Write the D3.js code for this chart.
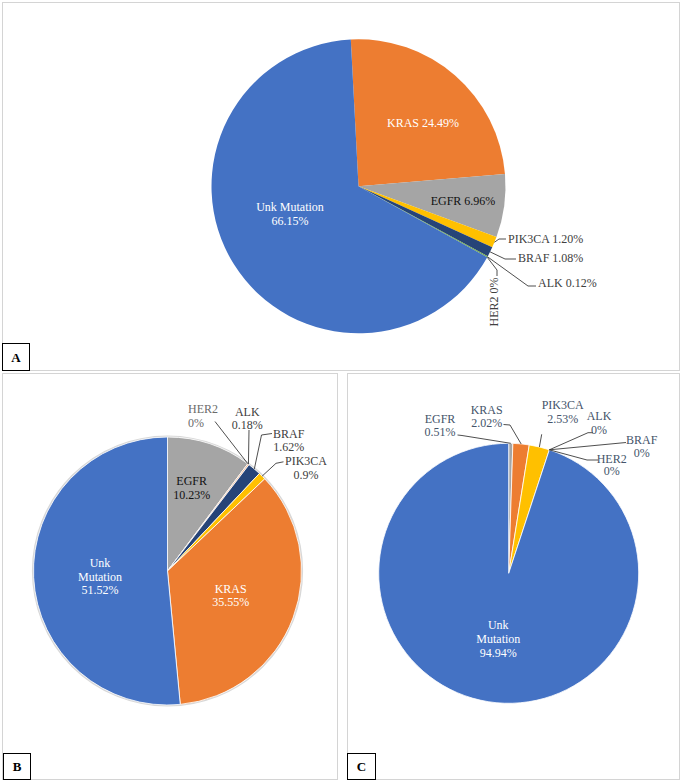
<!DOCTYPE html>
<html>
<head>
<meta charset="utf-8">
<script src="https://cdn.jsdelivr.net/npm/d3@7/dist/d3.min.js"></script>
<style>
  html, body { margin: 0; padding: 0; background: #fff; }
  svg { display: block; }
  text { font-family: "Liberation Serif", "Times New Roman", Tinos, "DejaVu Serif", serif; }
</style>
</head>
<body>
<svg id="chart" width="682" height="783"></svg>
<script>
// ---------- DATA ----------
const categoriesA = ["KRAS", "EGFR", "PIK3CA", "BRAF", "ALK", "HER2", "Unk Mutation"];
const valuesA     = [24.49, 6.96, 1.20, 1.08, 0.12, 0, 66.15];
const pctLabelsA  = ["24.49%", "6.96%", "1.20%", "1.08%", "0.12%", "0%", "66.15%"];

const categoriesB = ["EGFR", "HER2", "ALK", "BRAF", "PIK3CA", "KRAS", "Unk Mutation"];
const valuesB     = [10.23, 0, 0.18, 1.62, 0.9, 35.55, 51.52];
const pctLabelsB  = ["10.23%", "0%", "0.18%", "1.62%", "0.9%", "35.55%", "51.52%"];

const categoriesC = ["EGFR", "KRAS", "PIK3CA", "ALK", "BRAF", "HER2", "Unk Mutation"];
const valuesC     = [0.51, 2.02, 2.53, 0, 0, 0, 94.94];
const pctLabelsC  = ["0.51%", "2.02%", "2.53%", "0%", "0%", "0%", "94.94%"];

const panelLetters = ["A", "B", "C"];

// ---------- STYLE ----------
const colorMap = {
  "Unk Mutation": "#4472C4",
  "KRAS": "#ED7D31",
  "EGFR": "#A5A5A5",
  "PIK3CA": "#FFC000",
  "BRAF": "#264478",
  "HER2": "#F4B183"
};
const alkColor = { A: "#70AD47", B: "#F4B183", C: "#70AD47" };

const svg = d3.select("#chart");

// panel frames
const frames = [
  { x: 2.5, y: 2.5, w: 677, h: 368 },
  { x: 2.5, y: 373.5, w: 335, h: 406 },
  { x: 347.5, y: 373.5, w: 332, h: 406 }
];
const letterBoxes = [
  { x: 2.5, y: 343.5, w: 27, h: 27 },
  { x: 3.5, y: 753.5, w: 27, h: 26 },
  { x: 347.5, y: 753.5, w: 28, h: 26 }
];
frames.forEach(f => svg.append("rect").attr("x", f.x).attr("y", f.y).attr("width", f.w).attr("height", f.h)
  .attr("fill", "none").attr("stroke", "#d4d4d4").attr("stroke-width", 1));

// ---------- PANELS ----------
const panels = [
  {
    key: "A", cats: categoriesA, vals: valuesA, pcts: pctLabelsA,
    cx: 358.5, cy: 186.3, r: 147, startDeg: -3, sliceStroke: null, outline: false,
    outColor: "#404040",
    layout: {
      "KRAS":   { mode: "one", x: 423, y: 127, anchor: "middle", fill: "#fff" },
      "EGFR":   { mode: "one", x: 463, y: 205, anchor: "middle", fill: "#111" },
      "Unk Mutation": { mode: "two", x: 290, y: 211, lh: 14, anchor: "middle", fill: "#fff" },
      "PIK3CA": { mode: "one", x: 508, y: 243, anchor: "start", leader: [[499, 239], [506, 239]] },
      "BRAF":   { mode: "one", x: 518, y: 262, anchor: "start", leader: [[505, 259], [516, 259]] },
      "ALK":    { mode: "one", x: 538, y: 287, anchor: "start", leader: [[528, 286], [536, 286]] },
      "HER2":   { mode: "one", x: 498, y: 302, anchor: "middle", rotate: -90, leader: [[497, 270], [497, 276]] }
    }
  },
  {
    key: "B", cats: categoriesB, vals: valuesB, pcts: pctLabelsB,
    cx: 167.5, cy: 571, r: 134, startDeg: 0, sliceStroke: "#fff", outline: true,
    outColor: "#404040",
    layout: {
      "EGFR":   { mode: "two", x: 191.7, y: 485, lh: 13.5, anchor: "middle", fill: "#111" },
      "Unk Mutation": { mode: "split", x: 100, y: 567, lh: 13.6, anchor: "middle", fill: "#fff" },
      "KRAS":   { mode: "two", x: 230.7, y: 592.5, lh: 13.2, anchor: "middle", fill: "#fff" },
      "HER2":   { mode: "two", x: 188, y: 412.5, lh: 14, anchor: "start", fill: "#6b6b6b", leader: [[215, 421.5]] },
      "ALK":    { mode: "two", x: 247.3, y: 416, lh: 12.5, anchor: "middle", leader: [[249, 430]] },
      "BRAF":   { mode: "two", x: 288.7, y: 437.5, lh: 13.5, anchor: "middle", leader: [[261.5, 435], [272, 433.5]] },
      "PIK3CA": { mode: "two", x: 306, y: 465, lh: 13.5, anchor: "middle", leader: [[276, 463.3], [283.5, 461.8]] }
    }
  },
  {
    key: "C", cats: categoriesC, vals: valuesC, pcts: pctLabelsC,
    cx: 508.7, cy: 573.3, r: 130, startDeg: 0, sliceStroke: "#fff", outline: false,
    outColor: "#44546A",
    layout: {
      "Unk Mutation": { mode: "split", x: 498.3, y: 629, lh: 13.8, anchor: "middle", fill: "#fff" },
      "EGFR":   { mode: "two", x: 440, y: 422.5, lh: 13.4, anchor: "middle", leader: [[462, 435.5], [457.5, 435]] },
      "KRAS":   { mode: "two", x: 486.7, y: 414, lh: 13.4, anchor: "middle", leader: [[510, 425], [503.5, 424.5]] },
      "PIK3CA": { mode: "two", x: 562.7, y: 408.5, lh: 14, anchor: "middle", leader: [[541.7, 434.3]] },
      "ALK":    { mode: "two", x: 599, y: 420, lh: 14, anchor: "middle", leader: [[588, 432.7], [593, 432.7]] },
      "BRAF":   { mode: "two", x: 641.7, y: 443.5, lh: 13.5, anchor: "middle", leader: [[626, 442.5]] },
      "HER2":   { mode: "two", x: 611.7, y: 462.5, lh: 12.5, anchor: "middle", leader: [[587, 460], [598, 460]] }
    }
  }
];

function labelLines(name, pct, mode) {
  if (mode === "one") return [name + " " + pct];
  if (mode === "two") return [name, pct];
  return [...name.split(" "), pct];
}

panels.forEach(p => {
  const start = p.startDeg * Math.PI / 180;
  const pie = d3.pie().sort(null).value(d => d.v)
    .startAngle(start).endAngle(start + 2 * Math.PI);
  const data = p.cats.map((c, i) => ({ c, v: p.vals[i], pct: p.pcts[i] }));
  const arcs = pie(data);
  const arc = d3.arc().innerRadius(0).outerRadius(p.r);
  const edge = d3.arc().innerRadius(p.r).outerRadius(p.r);
  const color = c => c === "ALK" ? alkColor[p.key] : colorMap[c];

  const g = svg.append("g");
  if (p.outline) {
    g.append("circle").attr("cx", p.cx).attr("cy", p.cy).attr("r", p.r + 0.8)
      .attr("fill", "none").attr("stroke", "#d8d8d8").attr("stroke-width", 1.6);
  }
  const pg = g.append("g").attr("transform", `translate(${p.cx},${p.cy})`);
  pg.selectAll("path").data(arcs.filter(a => a.data.v > 0)).join("path")
    .attr("d", arc)
    .attr("fill", d => color(d.data.c))
    .attr("stroke", p.sliceStroke || "none")
    .attr("stroke-width", p.sliceStroke ? 0.8 : 0);

  // labels & leaders
  arcs.forEach(a => {
    const L = p.layout[a.data.c];
    if (!L) return;
    if (L.leader) {
      const [ex, ey] = edge.centroid(a);
      const pts = [[p.cx + ex, p.cy + ey], ...L.leader];
      g.append("path").attr("d", d3.line()(pts))
        .attr("fill", "none").attr("stroke", "#222").attr("stroke-width", 0.8);
    }
    const lines = labelLines(a.data.c, a.data.pct, L.mode);
    const t = g.append("text")
      .attr("font-size", 12)
      .attr("fill", L.fill || p.outColor)
      .attr("text-anchor", L.anchor);
    if (L.rotate) {
      t.attr("transform", `translate(${L.x},${L.y}) rotate(${L.rotate})`);
      t.append("tspan").attr("x", 0).attr("y", 0).text(lines[0]);
    } else {
      lines.forEach((ln, i) => t.append("tspan").attr("x", L.x).attr("y", L.y + i * (L.lh || 14)).text(ln));
    }
  });
});

// letter boxes
letterBoxes.forEach((b, i) => {
  svg.append("rect").attr("x", b.x).attr("y", b.y).attr("width", b.w).attr("height", b.h)
    .attr("fill", "#fff").attr("stroke", "#000").attr("stroke-width", 1);
  svg.append("text").attr("x", b.x + b.w / 2).attr("y", b.y + b.h / 2 + 4.5)
    .attr("text-anchor", "middle").attr("font-weight", "bold")
    .attr("font-size", 13).attr("fill", "#000").text(panelLetters[i]);
});
</script>
</body>
</html>
